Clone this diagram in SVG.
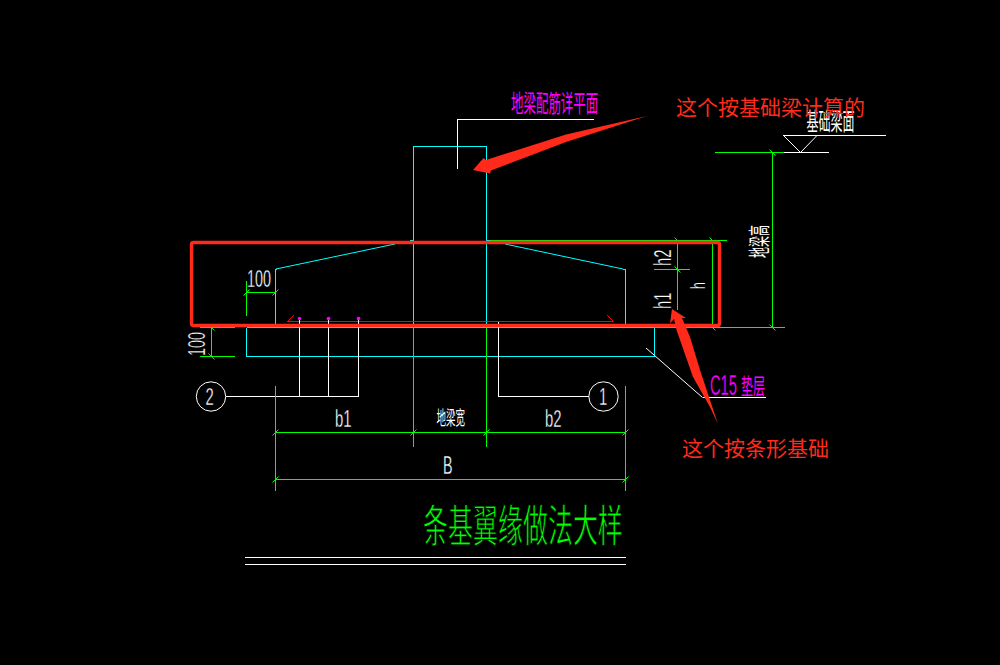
<svg xmlns="http://www.w3.org/2000/svg" width="1000" height="665" viewBox="0 0 1000 665">
<style>
.c{stroke:#00ffff;stroke-width:1;fill:none;shape-rendering:crispEdges}
.g{stroke:#00ff00;stroke-width:1;fill:none;shape-rendering:crispEdges}
.w{stroke:#ffffff;stroke-width:1;fill:none;shape-rendering:crispEdges}
.r{stroke:#ff0000;stroke-width:1;fill:none;shape-rendering:crispEdges}
.s{stroke-width:1;fill:none}
.lat{font-family:"Liberation Sans",sans-serif;fill:#ffffff;stroke:#000000;stroke-width:.35}
.cjk{font-family:"Noto Sans CJK SC",sans-serif;font-weight:400}
.thin{stroke:#000000;stroke-width:.85}
.note{font-family:"Noto Sans CJK SC",sans-serif;font-size:21px;fill:#ff2a1a}
</style>
<defs>
<path id="t" d="M-3 3L3 -3" stroke="#00ff00" stroke-width="1" fill="none"/>
<path id="u" d="M-3 -3L3 3" stroke="#00ff00" stroke-width="1" fill="none"/>
</defs>
<rect width="1000" height="665" fill="#000000"/>
<g id="concrete">
<path class="c" d="M413.5 240.5V146.5H486.5V326M413.5 240.5V326"/>
<path class="c" d="M410 240.5H413.5M486.5 240.5H490"/>
<path class="s" stroke="#00ffff" d="M395 244L276 269"/>
<path class="s" stroke="#00ffff" d="M505 244L623 269"/>
<path class="c" d="M275.5 326V269H277M625.5 326V269H623"/>
<path class="c" d="M246.5 327.5V356.5H654.5V327.5H246.5"/>
</g>
<g id="rebar">
<path class="r" d="M287 321.5H613"/>
<path class="s" stroke="#ff0000" d="M287.5 321.5L294 315M613.5 321.5L607 315"/>
<path class="w" d="M299.5 319V396.5M328.5 319V396.5M358.5 319V396.5M226 396.5H358.5"/>
<path class="w" d="M498.5 322V396.5H589"/>
<circle cx="299.5" cy="318.5" r="1.8" fill="#ff00ff"/>
<circle cx="328.5" cy="318.5" r="1.8" fill="#ff00ff"/>
<circle cx="358.5" cy="318.5" r="1.8" fill="#ff00ff"/>
</g>
<g id="dimensions">
<path class="g" d="M246.5 281V316M246.5 292.5H276"/>
<use href="#t" x="246.5" y="292.5"/><use href="#t" x="275.5" y="292.5"/>
<path class="g" d="M211.5 327.5V356.5M200 327.5H235M200 356.5H235"/>
<use href="#u" x="211.5" y="327.5"/><use href="#u" x="211.5" y="356.5"/>
<path class="g" d="M275.5 386V491M625.5 386V491M413.5 327V447M486.5 327V447M275.5 432.5H625.5M275.5 479.5H625.5"/>
<use href="#t" x="275.5" y="432.5"/><use href="#t" x="413.5" y="432.5"/><use href="#t" x="486.5" y="432.5"/><use href="#t" x="625.5" y="432.5"/>
<use href="#t" x="275.5" y="479.5"/><use href="#t" x="625.5" y="479.5"/>
<path class="g" d="M490 240.5H727M677.5 240.5V310M712.5 240.5V327.5M654 269.5H690M654 327.5H785M772.5 152.5V327.5M715 152.5H784"/>
<use href="#u" x="677.5" y="240.5"/><use href="#u" x="712.5" y="240.5"/><use href="#u" x="677.5" y="269.5"/><use href="#u" x="712.5" y="327.5"/><use href="#u" x="772.5" y="327.5"/><use href="#u" x="772.5" y="152.5"/>
</g>
<g id="leaders">
<path class="w" d="M457.5 169V119.5H594"/>
<path class="w" d="M784 152.5H829M783 135.5H886"/>
<path class="s" stroke="#ffffff" d="M783.5 135.5L800.5 152.5L817 135.5"/>
<path class="s" stroke="#ffffff" d="M646 348L702.5 397.5"/>
<path class="w" d="M702.5 397.5H766"/>
</g>
<g id="marker-2"><circle cx="211" cy="396.5" r="14.7" fill="none" stroke="#ffffff"/>
<text class="lat" transform="translate(205.5,405) scale(.62,1)" font-size="24">2</text></g>
<g id="marker-1"><circle cx="603.5" cy="396.5" r="14.7" fill="none" stroke="#ffffff"/>
<text class="lat" transform="translate(599,405) scale(.62,1)" font-size="24">1</text></g>
<g id="labels">
<text class="lat" transform="translate(247,287) scale(.6,1)" font-size="24">100</text>
<text class="lat" transform="translate(205,356) rotate(-90) scale(.6,1)" font-size="24">100</text>
<text class="lat" transform="translate(335,427) scale(.62,1)" font-size="24">b1</text>
<text class="lat" transform="translate(545,427) scale(.62,1)" font-size="24">b2</text>
<text class="lat" transform="translate(443,474) scale(.55,1)" font-size="26">B</text>
<text class="lat" transform="translate(671,266) rotate(-90) scale(.62,1)" font-size="24">h2</text>
<text class="lat" transform="translate(671,309) rotate(-90) scale(.62,1)" font-size="24">h1</text>
<text class="lat" transform="translate(705,289) rotate(-90) scale(.62,1)" font-size="20">h</text>
<text class="cjk" fill="#ffffff" transform="translate(436.5,425) scale(.5,1)" font-size="19">地梁宽</text>
<text class="cjk" fill="#ffffff" transform="translate(767,258) rotate(-90) scale(.5,1)" font-size="22">地梁高</text>
<text class="cjk" fill="#ffffff" transform="translate(806.5,130) scale(.5,1)" font-size="24">基础梁面</text>
<text class="cjk" fill="#ff00ff" transform="translate(511,112) scale(.52,1)" font-size="24">地梁配筋详平面</text>
<text class="cjk" fill="#ff00ff" transform="translate(710,395) scale(.49,1)" font-size="30" style="font-family:'Liberation Sans',sans-serif;stroke:#000;stroke-width:.3">C15</text>
<text class="cjk" fill="#ff00ff" transform="translate(741,394) scale(.55,1)" font-size="22">垫层</text>
<text class="cjk thin" fill="#00ff00" transform="translate(423,541.5) scale(.568,1)" font-size="44">条基翼缘做法大样</text>
</g>
<g id="title-rule"><path class="w" d="M245 557.5H626M245 564.5H626"/></g>
<g id="annotations">
<rect x="191.5" y="242.5" width="528" height="83" rx="2" fill="none" stroke="#ff2a1a" stroke-width="3.4"/>
<polygon points="473,170 483.5,158 486,160 566,134.5 647,116 566,142 491,170.5 490,173.5" fill="#ff2a1a"/>
<polygon points="672,309 686,318 682,318 690,337 700,370 718,424 710,407 693,377 676.5,330 674,319 670,323.5" fill="#ff2a1a"/>
<text class="note" x="676" y="115">这个按基础梁计算的</text>
<text class="note" x="682" y="456">这个按条形基础</text>
</g>
</svg>
